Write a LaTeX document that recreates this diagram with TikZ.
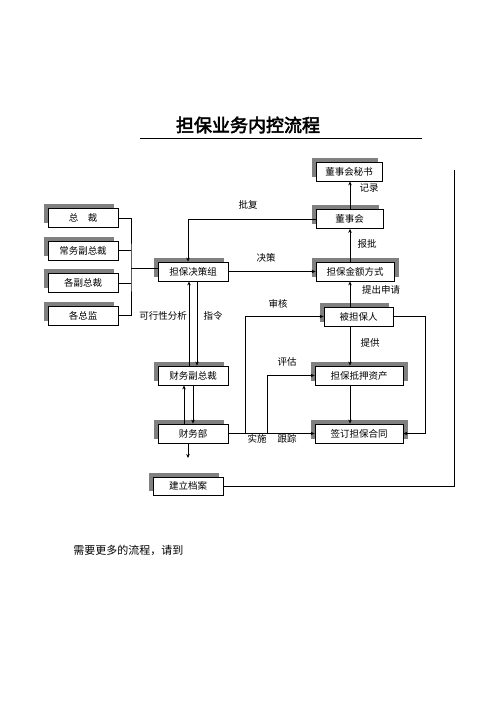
\documentclass[tikz,border=0pt]{standalone}
\usepackage{fontspec}
\setmainfont{Noto Sans CJK SC}
\newfontfamily\titlefont[FakeBold=3]{Noto Sans CJK SC}
\usetikzlibrary{shadows,arrows.meta}
\tikzset{
  boxL/.style={draw,line width=0.8pt,fill=white,minimum height=19pt,inner sep=0pt,
    font=\fontsize{9.5}{11}\selectfont,
    drop shadow={shadow xshift=-4.5pt,shadow yshift=4.5pt,fill=black!50,opacity=1}},
  boxR/.style={boxL,
    drop shadow={shadow xshift=5pt,shadow yshift=4.5pt,fill=black!50,opacity=1}},
  lab/.style={font=\fontsize{9.5}{11}\selectfont,inner sep=1pt},
  >={Stealth[length=4pt,width=3.5pt]}
}
\begin{document}
\begin{tikzpicture}[x=1pt,y=-1pt,line width=0.8pt]
\useasboundingbox (0,0) rectangle (496,702);
\node[font=\titlefont\fontsize{18}{20}\selectfont] (T) at (248,125) {担保业务内控流程};
\draw (140,138) -- (422,138);
% left side
\node[boxL,minimum width=70pt] (ZC) at (83,218) {总\quad 裁};
\node[boxL,minimum width=70pt] (CW) at (83,250.5) {常务副总裁};
\node[boxL,minimum width=70pt] (GF) at (83,283) {各副总裁};
\node[boxL,minimum width=70pt] (GZ) at (83,315.5) {各总监};
\node[boxL,minimum width=70pt] (JC) at (193,271.5) {担保决策组};
\node[boxL,minimum width=70pt] (CF) at (193,375.5) {财务副总裁};
\node[boxL,minimum width=70pt] (CB) at (193,433.5) {财务部};
\node[boxL,minimum width=70pt,minimum height=18pt] (DA) at (188,486) {建立档案};
% right side
\node[boxL,minimum width=66pt] (MS) at (349,171.5) {董事会秘书};
\node[boxL,minimum width=67pt] (DS) at (349.5,219) {董事会};
\node[boxR,minimum width=78pt] (JE) at (355,271.5) {担保金额方式};
\node[boxL,minimum width=69pt] (BD) at (358.5,316.5) {被担保人};
\node[boxR,minimum width=88pt] (DY) at (359,375.5) {担保抵押资产};
\node[boxR,minimum width=88pt] (HT) at (359,433.5) {签订担保合同};
\coordinate (K) at (131,268);
\coordinate (M) at (350,0);
\coordinate (S) at (245,0);
\coordinate (P) at (267,0);
\coordinate (R) at (425,0);
\coordinate (E) at (454,170);
\coordinate (F) at (188,458);
% connectors
\draw (ZC.east) -| (K) |- (GZ.east);
\draw (CW.east) -- (CW.east -| K);
\draw (GF.east) -- (GF.east -| K);
\draw (K) -- (K -| JC.west);
\draw[->] (DS.west) -| ([xshift=-5pt]JC.north);
\draw[->] (JC.east) -- (JE.west);
\draw[->] (DS.north -| M) -- (MS.south -| M);
\draw[->] (JE.north -| M) -- (DS.south -| M);
\draw[->] (BD.north -| M) -- (JE.south -| M);
\draw[->] (BD.south -| M) -- (DY.north -| M);
\draw[->] (DY.south -| M) -- (HT.north -| M);
\draw[->] ([xshift=-4pt]CF.north) -- ([xshift=-4pt]JC.south);
\draw[->] ([xshift=4pt]JC.south) -- ([xshift=4pt]CF.north);
\draw[->] ([xshift=-9pt]CB.north) -- ([xshift=-9pt]CF.south);
\draw[->] (CF.south) -- (CB.north);
\draw[->] ([xshift=-5pt]CB.south) -- (F);
\draw[->] (CB.east) -- (HT.west);
\draw[->] (CB.east -| S) |- (BD.west);
\draw[->] (CB.east -| P) |- (DY.west);
\draw[->] (BD.east) -| (HT.east -| R) -- (HT.east);
\draw (DA.east) -- (DA.east -| E) -- (E);
% labels
\node[lab] (L1) at (248,205) {批复};
\node[lab] (L2) at (266,258) {决策};
\node[lab] (L3) at (369,188) {记录};
\node[lab] (L4) at (367,244) {报批};
\node[lab] (L5) at (381,290) {提出申请};
\node[lab] (L6) at (278,304) {审核};
\node[lab] (L7) at (163,316) {可行性分析};
\node[lab] (L8) at (213,316) {指令};
\node[lab] (L9) at (370,343) {提供};
\node[lab] (L10) at (287,362) {评估};
\node[lab] (L11) at (257,439) {实施};
\node[lab] (L12) at (287,439) {跟踪};
\node[lab,anchor=west,font=\fontsize{11}{13}\selectfont] (N) at (72,550) {需要更多的流程，请到};
\end{tikzpicture}
\end{document}
